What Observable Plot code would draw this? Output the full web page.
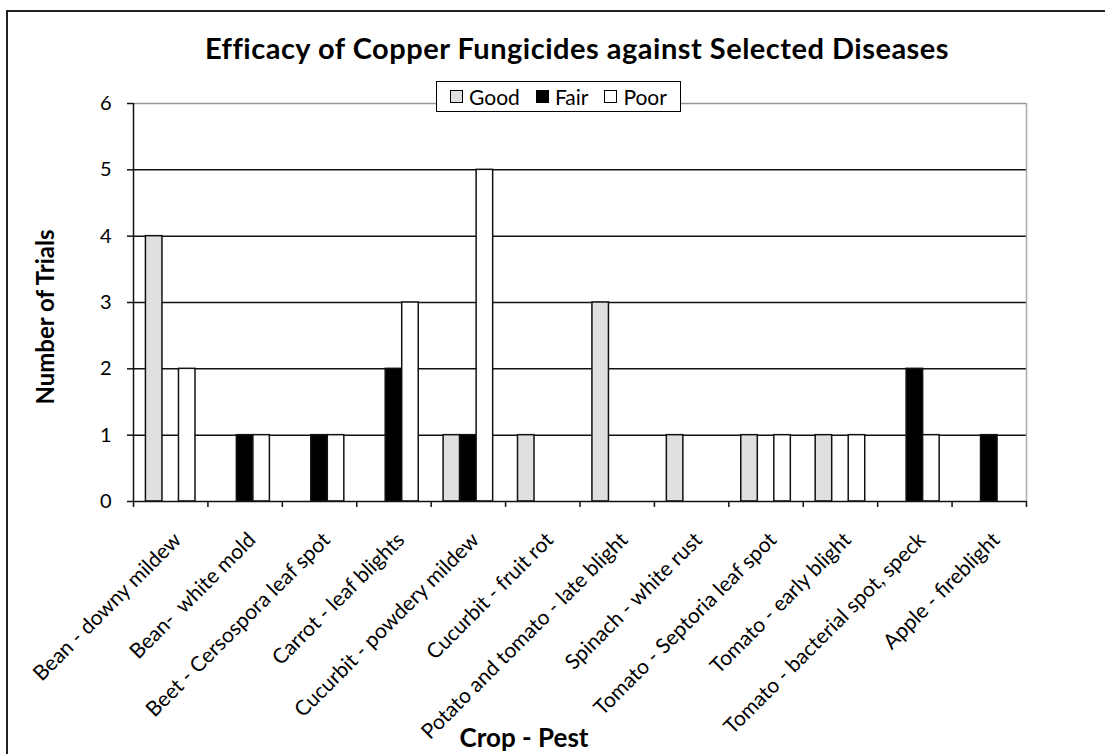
<!DOCTYPE html>
<html><head><meta charset="utf-8">
<script src="https://cdn.jsdelivr.net/npm/d3@7"></script>
<script src="https://cdn.jsdelivr.net/npm/@observablehq/plot@0.6"></script>
<style>
body{margin:0;background:#fff;font-family:Lato,"Open Sans",sans-serif;color:#000;}
#wrap{position:relative;width:1105px;height:754px;overflow:hidden;background:#fff;}
#frame{position:absolute;left:6px;top:10px;width:1200px;height:900px;border-left:2px solid #222;border-top:2px solid #222;}
#chart{position:absolute;left:0;top:0;}
#title{position:absolute;top:33px;left:0;width:1154px;text-align:center;font-weight:bold;font-size:29px;line-height:30px;letter-spacing:0.5px;white-space:nowrap;}
#legend{position:absolute;left:436px;top:81px;width:243px;height:29px;border:1.5px solid #000;background:#fff;display:flex;align-items:center;justify-content:center;font-size:21px;}
#legend .it{display:flex;align-items:center;margin:0 8px;}
#legend .sw{width:13px;height:13px;border:1px solid #000;margin-right:6px;box-sizing:border-box;}
#ytitle{position:absolute;left:44px;top:317px;transform:translate(-50%,-50%) rotate(-90deg);font-weight:bold;font-size:24px;white-space:nowrap;}
#xtitle{position:absolute;left:524px;top:722px;line-height:30px;transform:translateX(-50%);font-weight:bold;font-size:26px;white-space:nowrap;}
</style></head>
<body>
<div id="wrap">
<div id="frame"></div>
<div id="chart"></div>
<div id="title">Efficacy of Copper Fungicides against Selected Diseases</div>
<div id="legend"></div>
<div id="ytitle">Number of Trials</div>
<div id="xtitle">Crop - Pest</div>
</div>
<script>
const categories = [
  "Bean - downy mildew",
  "Bean-\u00a0 white mold",
  "Beet - Cersospora leaf spot",
  "Carrot - leaf blights",
  "Cucurbit - powdery mildew",
  "Cucurbit - fruit rot",
  "Potato and tomato - late blight",
  "Spinach - white rust",
  "Tomato - Septoria leaf spot",
  "Tomato - early blight",
  "Tomato - bacterial spot, speck",
  "Apple - fireblight"
];
const good = [4, 0, 0, 0, 1, 1, 3, 1, 1, 1, 0, 0];
const fair = [0, 1, 1, 2, 1, 0, 0, 0, 0, 0, 2, 1];
const poor = [2, 1, 1, 3, 5, 0, 0, 0, 1, 1, 1, 0];
const seriesNames = ["Good", "Fair", "Poor"];
const seriesColors = ["#e0e0e0", "#000000", "#ffffff"];
const yTicks = [0, 1, 2, 3, 4, 5, 6];

const seriesValues = [good, fair, poor];
const rows = [];
categories.forEach((c, i) => {
  seriesValues.forEach((arr, k) => {
    if (arr[i] > 0) rows.push({cat: c, i, k, series: seriesNames[k], value: arr[i]});
  });
});
const bw = 0.222, pad = (1 - 3 * bw) / 2;
const catIdx = categories.map((c, i) => i);
const bounds = d3.range(categories.length + 1);

const chart = Plot.plot({
  width: 1105, height: 754,
  marginLeft: 133, marginRight: 79, marginTop: 103, marginBottom: 253,
  style: {fontFamily: "Lato, 'Open Sans', sans-serif", background: "transparent", overflow: "visible"},
  x: {domain: [0, categories.length], axis: null},
  y: {domain: [0, 6], axis: null},
  color: {domain: seriesNames, range: seriesColors},
  marks: [
    Plot.ruleY(yTicks.filter(t => t > 0 && t < 6), {stroke: "#111", strokeWidth: 1.5}),
    Plot.ruleY([6], {stroke: "#999", strokeWidth: 1.5}),
    Plot.ruleX([categories.length], {stroke: "#aaa", strokeWidth: 1.5}),
    Plot.rectY(rows, {
      x1: d => d.i + pad + d.k * bw,
      x2: d => d.i + pad + (d.k + 1) * bw,
      y1: 0, y2: "value",
      fill: "series", stroke: "#111", strokeWidth: 1.5
    }),
    Plot.ruleX([0], {stroke: "#111", strokeWidth: 1.5}),
    Plot.ruleY([0], {stroke: "#111", strokeWidth: 1.5}),
    Plot.axisY(yTicks, {tickSize: 6, tickPadding: 16, fontSize: 20, strokeWidth: 1.5, stroke: "#111", label: null, tickFormat: d => String(d)}),
    Plot.axisX(bounds, {tickSize: 6, strokeWidth: 1.5, stroke: "#111", label: null, tickFormat: () => ""}),
    Plot.text(catIdx, {
      x: i => i + 0.5, y: 0, text: i => categories[i],
      rotate: -45, textAnchor: "end", fontSize: 21, fill: "#000",
      dx: 7, dy: 35
    })
  ]
});
document.getElementById("chart").appendChild(chart);

const leg = document.getElementById("legend");
seriesNames.forEach((s, k) => {
  const it = document.createElement("div");
  it.className = "it";
  const sw = document.createElement("div");
  sw.className = "sw";
  sw.style.background = seriesColors[k];
  it.appendChild(sw);
  const t = document.createElement("span");
  t.textContent = s;
  it.appendChild(t);
  leg.appendChild(it);
});
</script>
</body></html>
